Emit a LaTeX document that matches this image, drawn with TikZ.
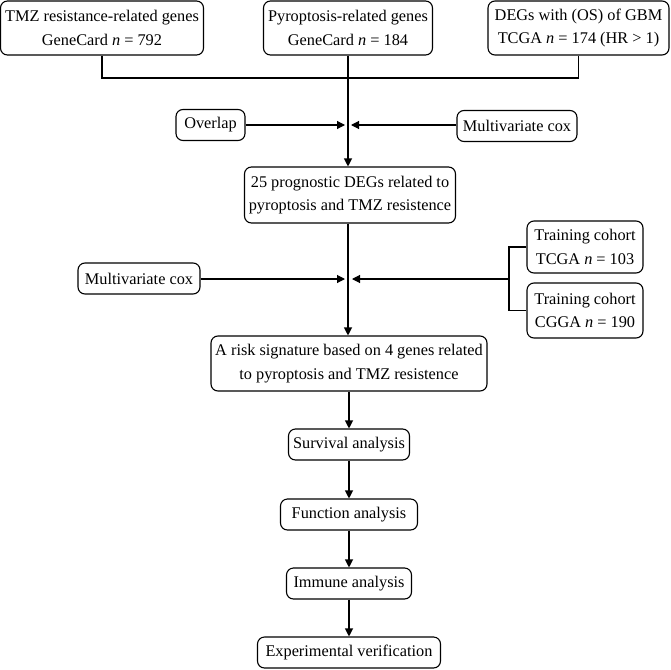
\documentclass[tikz,border=0pt]{standalone}
\usepackage{fontspec}
\setmainfont{Liberation Serif}
\usetikzlibrary{arrows.meta}
\begin{document}
\begin{tikzpicture}[x=1pt,y=-1pt,
  box/.style={draw, rounded corners=7pt, line width=1.1pt, align=center, inner sep=0pt,
    font=\fontsize{16.3}{23.5}\selectfont},
  conn/.style={line width=1.1pt},
  arr/.style={line width=1.1pt, -{Triangle[length=8pt,width=8pt]}}]
\useasboundingbox (0,0) rectangle (671,669);
% top row
\node[box, minimum width=203pt, minimum height=54pt] (b1) at (102,28) {TMZ resistance-related genes\\GeneCard \textit{n} = 792};
\node[box, minimum width=169pt, minimum height=54pt] (b2) at (348,28) {Pyroptosis-related genes\\GeneCard \textit{n} = 184};
\node[box, minimum width=181pt, minimum height=54pt] (b3) at (578.5,28) {DEGs with (OS) of GBM\\TCGA \textit{n} = 174 (HR \textgreater{} 1)};
% first side boxes
\node[box, minimum width=69pt, minimum height=31pt] (ov) at (210.5,125) {Overlap};
\node[box, minimum width=120pt, minimum height=31pt] (mc1) at (517,126) {Multivariate cox};
% middle
\node[box, minimum width=211pt, minimum height=56pt] (p25) at (350,195) {25 prognostic DEGs related to\\pyroptosis and TMZ resistence};
\node[box, minimum width=122pt, minimum height=31pt] (mc2) at (139,278.5) {Multivariate cox};
\node[box, minimum width=116pt, minimum height=52pt] (t1) at (585,247) {Training cohort\\TCGA \textit{n} = 103};
\node[box, minimum width=116pt, minimum height=55pt] (t2) at (585,310.5) {Training cohort\\CGGA \textit{n} = 190};
\node[box, minimum width=276pt, minimum height=55pt] (risk) at (349,363.5) {A risk signature based on 4 genes related\\to pyroptosis and TMZ resistence};
% bottom chain
\node[box, minimum width=121pt, minimum height=31pt] (surv) at (349,444.5) {Survival analysis};
\node[box, minimum width=137pt, minimum height=31pt] (func) at (349,514.5) {Function analysis};
\node[box, minimum width=125pt, minimum height=31pt] (imm) at (349,583.5) {Immune analysis};
\node[box, minimum width=183pt, minimum height=31pt] (exp) at (349,652.5) {Experimental verification};
% junctions
\coordinate (j) at (348,78);
\coordinate (m1l) at (345,125);
\coordinate (m1r) at (351,125);
\coordinate (m2l) at (345,279);
\coordinate (m2r) at (352,279);
\coordinate (br) at (509,279);
% connectors
\draw[conn] (b1.south) |- (j) -| (b3.south);
\draw[arr] (b2.south) -- (b2.south |- p25.north);
\draw[arr] (ov.east) -- (m1l);
\draw[arr] (mc1.west |- m1r) -- (m1r);
\draw[arr] (p25.south -| b2.south) -- (b2.south |- risk.north);
\draw[arr] (mc2.east |- m2l) -- (m2l);
\draw[conn] (t1.west) -| (br) |- (t2.west);
\draw[arr] (br) -- (m2r);
\draw[arr] (risk.south) -- (surv.north);
\draw[arr] (surv.south) -- (func.north);
\draw[arr] (func.south) -- (imm.north);
\draw[arr] (imm.south) -- (exp.north);
\end{tikzpicture}
\end{document}
